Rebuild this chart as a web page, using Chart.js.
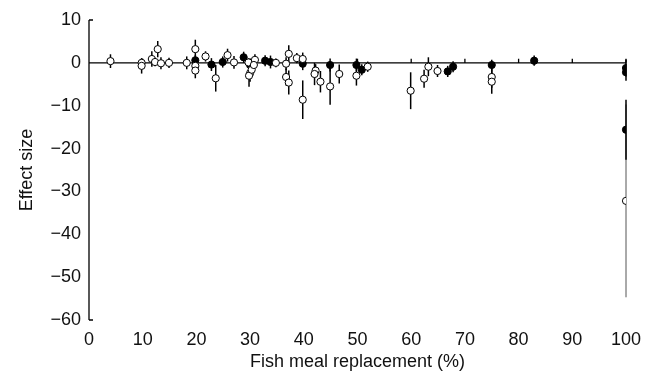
<!DOCTYPE html>
<html>
<head>
<meta charset="utf-8">
<script src="https://cdn.jsdelivr.net/npm/chart.js@4.4.0/dist/chart.umd.min.js"></script>
<style>
  body { margin: 0; background: #fff; }
  #wrap { width: 655px; height: 377px; }
</style>
</head>
<body>
<div id="wrap"><canvas id="myChart" width="655" height="377"></canvas></div>
<script>
// open circles
const openX = [4, 9.8, 9.8, 11.7, 12.3, 12.8, 13.4, 14.9, 18.2, 19.8, 19.8, 19.8, 21.7, 23.6, 25.8, 27, 29.7, 30, 29.8, 30.3, 30.9, 30.7, 34.8, 36.7, 36.7, 37.2, 37.2, 38.7, 39.8, 39.8, 42.2, 42.0, 43.1, 44.9, 46.6, 49.8, 51.9, 59.9, 62.4, 63.2, 64.9, 75, 75, 100];
const openY = [0.4, 0, -0.7, 0.9, 0.2, 3.2, -0.1, 0, 0, 3.2, -0.7, -1.8, 1.5, -3.6, 1.8, 0.1, 0.1, -2.4, -3, -1.6, 0.7, -0.5, 0, -0.2, -3.3, -4.6, 2.1, 1.1, 0.9, -8.6, -1.8, -2.6, -4.4, -5.5, -2.6, -3, -0.9, -6.5, -3.7, -0.9, -1.9, -3.3, -4.4, -32.2];
const openErr = [1.6, 1.0, 1.8, 1.8, 1.0, 1.9, 1.4, 1.2, 1.5, 2.2, 1.5, 1.8, 1.2, 3.1, 1.5, 1.5, 1.0, 2.0, 2.6, 1.5, 1.3, 1.0, 1.0, 1.5, 2.0, 2.8, 2.0, 1.2, 1.5, 4.5, 1.5, 2.6, 2.5, 4.3, 2.2, 2.3, 1.2, 4.3, 2.1, 2.2, 1.4, 2.5, 2.8, 22.5];

// filled circles
const filledX = [19.8, 22.8, 24.9, 28.8, 30, 32.8, 33.8, 39.8, 44.9, 49.8, 50.8, 66.8, 67.8, 75, 82.9, 100, 100, 100];
const filledY = [0.6, -0.4, 0.2, 1.3, -0.5, 0.5, 0.2, -0.2, -0.5, -0.5, -1.6, -2, -0.9, -0.5, 0.5, -1.2, -2.2, -15.6];
const filledErr = [1.2, 1.5, 1.3, 1.3, 1.5, 1.3, 1.5, 1.5, 1.5, 1.5, 1.3, 1.3, 1.3, 1.2, 1.2, 2.0, 2.0, 7];

const xTicks = [0, 10, 20, 30, 40, 50, 60, 70, 80, 90, 100];
const yTicks = [10, 0, -10, -20, -30, -40, -50, -60];

const toPts = (xs, ys, es) => xs.map((x, i) => ({ x: x, y: ys[i], err: es[i] }));

// axis lines + error bars, all through the scales
const extras = {
  id: 'extras',
  beforeDatasetsDraw(chart) {
    const ctx = chart.ctx;
    const xs = chart.scales.x, ys = chart.scales.y;
    ctx.save();
    ctx.strokeStyle = '#000';
    ctx.lineWidth = 1.3;
    // y axis
    const x0 = xs.getPixelForValue(0);
    ctx.beginPath();
    ctx.moveTo(x0, ys.getPixelForValue(10));
    ctx.lineTo(x0, ys.getPixelForValue(-60));
    ctx.moveTo(x0, ys.getPixelForValue(10));
    ctx.lineTo(x0 + 4, ys.getPixelForValue(10));
    ctx.moveTo(x0, ys.getPixelForValue(-60));
    ctx.lineTo(x0 + 4, ys.getPixelForValue(-60));
    // zero line
    const y0 = ys.getPixelForValue(0);
    ctx.moveTo(x0, y0);
    ctx.lineTo(xs.getPixelForValue(100), y0);
    xTicks.slice(1).forEach(t => {
      const px = xs.getPixelForValue(t);
      ctx.moveTo(px, y0);
      ctx.lineTo(px, y0 - 4);
    });
    ctx.stroke();
    // error bars
    chart.data.datasets.forEach(ds => {
      ds.data.forEach(p => {
        const px = xs.getPixelForValue(p.x);
        ctx.lineWidth = p.err > 10 ? 1 : 1.5;
        ctx.strokeStyle = p.err > 10 ? '#555' : '#000';
        ctx.beginPath();
        ctx.moveTo(px, ys.getPixelForValue(p.y + p.err));
        ctx.lineTo(px, ys.getPixelForValue(p.y - p.err));
        ctx.stroke();
      });
    });
    ctx.restore();
  }
};

const font = { family: "'Liberation Sans', Arial, sans-serif", size: 18 };

const config = {
  type: 'scatter',
  data: {
    datasets: [
      {
        label: 'open',
        data: toPts(openX, openY, openErr),
        pointRadius: 3.6,
        pointBackgroundColor: '#fff',
        pointBorderColor: '#000',
        pointBorderWidth: 1
      },
      {
        label: 'filled',
        data: toPts(filledX, filledY, filledErr),
        pointRadius: 3.6,
        pointBackgroundColor: '#000',
        pointBorderColor: '#000',
        pointBorderWidth: 1
      }
    ]
  },
  options: {
    responsive: false,
    animation: false,
    layout: { padding: { top: 20, right: 29, left: 0, bottom: 0 } },
    plugins: {
      legend: { display: false },
      tooltip: { enabled: false }
    },
    scales: {
      x: {
        type: 'linear',
        min: 0,
        max: 100,
        afterBuildTicks: s => { s.ticks = xTicks.map(v => ({ value: v })); },
        afterFit: s => { s.height = 57; },
        grid: { display: false, drawTicks: false },
        border: { display: false },
        ticks: { color: '#111', font: font, padding: 9, maxRotation: 0 },
        title: { display: true, text: 'Fish meal replacement (%)', color: '#111', font: font, padding: { top: 1 } }
      },
      y: {
        type: 'linear',
        min: -60,
        max: 10,
        afterBuildTicks: s => { s.ticks = yTicks.map(v => ({ value: v })); },
        afterFit: s => { s.width = 89; },
        grid: { display: false, drawTicks: false },
        border: { display: false },
        ticks: {
          color: '#111', font: font, padding: 8,
          callback: v => (v < 0 ? '\u2212' + Math.abs(v) : String(v))
        },
        title: { display: true, text: 'Effect size', color: '#111', font: font, padding: { top: 16, bottom: 4 } }
      }
    }
  },
  plugins: [extras]
};

const myChart = new Chart(document.getElementById('myChart'), config);
</script>
</body>
</html>
